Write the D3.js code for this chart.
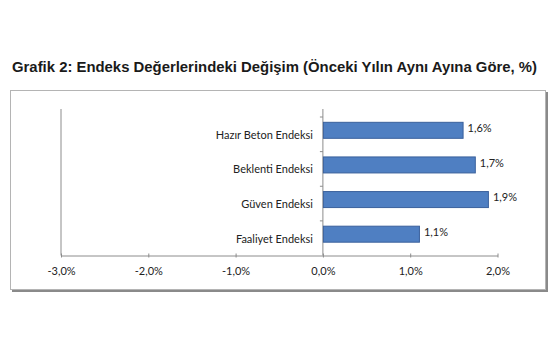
<!DOCTYPE html>
<html>
<head>
<meta charset="utf-8">
<style>
  body { margin: 0; background: #fff; }
  .title { font-family: "Liberation Sans", Arial, sans-serif; font-weight: bold; fill: #1a1a1a; }
  .lbl { font-family: Lato, "Open Sans", sans-serif; fill: #222; }
  .axis path, .axis line { stroke: #8c8c8c; }
</style>
</head>
<body>
<script src="https://d3js.org/d3.v7.min.js"></script>
<script>
  const categories = ['Hazır Beton Endeksi', 'Beklenti Endeksi', 'Güven Endeksi', 'Faaliyet Endeksi'];
  const values = [1.6, 1.74, 1.89, 1.1];
  const xTicks = [-3, -2, -1, 0, 1, 2];
  const titleText = 'Grafik 2: Endeks Değerlerindeki Değişim (Önceki Yılın Aynı Ayına Göre, %)';

  const data = categories.map((c, i) => ({ name: c, value: values[i] }));
  const fmt = v => v.toFixed(1).replace('.', ',') + '%';

  const width = 555, height = 355;
  const svg = d3.select('body').append('svg')
    .attr('width', width)
    .attr('height', height);

  svg.append('text')
    .attr('class', 'title')
    .attr('x', 12)
    .attr('y', 72)
    .attr('font-size', 15)
    .attr('textLength', 525)
    .attr('lengthAdjust', 'spacingAndGlyphs')
    .text(titleText);

  // frame with shadow on right/bottom
  svg.append('rect')
    .attr('x', 12).attr('y', 92).attr('width', 536).attr('height', 200)
    .attr('fill', '#8a8a8a');
  svg.append('rect')
    .attr('x', 10.5).attr('y', 90.5).attr('width', 535).attr('height', 199)
    .attr('fill', '#fff').attr('stroke', '#b4b4b4');

  const x = d3.scaleLinear()
    .domain([-3, 2])
    .range([61, 497.5]);

  const y = d3.scaleBand()
    .domain(categories)
    .range([117, 255.5]);

  const axisY = 255.5;

  // left vertical line at -3%
  svg.append('line')
    .attr('x1', x(-3)).attr('x2', x(-3))
    .attr('y1', 109).attr('y2', axisY)
    .attr('stroke', '#8c8c8c');

  const xAxis = svg.append('g')
    .attr('class', 'axis')
    .attr('transform', `translate(0,${axisY})`)
    .call(d3.axisBottom(x).tickValues(xTicks).tickSize(4).tickSizeOuter(0).tickFormat(fmt));
  xAxis.selectAll('line').attr('y1', -2).attr('y2', 2);
  xAxis.selectAll('text')
    .attr('class', 'lbl')
    .attr('font-size', 11)
    .attr('dy', '0.71em')
    .attr('y', 12);

  const yAxis = svg.append('g')
    .attr('class', 'axis')
    .attr('transform', `translate(${x(0)},0)`)
    .call(d3.axisLeft(y).tickSize(0).tickSizeOuter(0).tickPadding(10));
  yAxis.select('.domain').attr('d', `M0,109V${axisY}`);
  yAxis.selectAll('text')
    .attr('class', 'lbl')
    .attr('font-size', 11)
    .attr('dy', '0.4em');
  // category separators
  yAxis.selectAll('.sep')
    .data(categories)
    .join('line')
    .attr('class', 'sep')
    .attr('x1', -3).attr('x2', 0)
    .attr('y1', d => y(d)).attr('y2', d => y(d))
    .attr('stroke', '#8c8c8c');

  const barH = 16, barShift = -4;
  svg.append('g')
    .selectAll('rect')
    .data(data)
    .join('rect')
    .attr('x', x(0) + 0.5)
    .attr('y', d => y(d.name) + (y.bandwidth() - barH) / 2 + barShift)
    .attr('width', d => x(d.value) - x(0))
    .attr('height', barH)
    .attr('fill', '#4f7fc2')
    .attr('stroke', '#3a609c')
    .attr('stroke-width', 1);

  svg.append('g')
    .selectAll('text')
    .data(data)
    .join('text')
    .attr('class', 'lbl')
    .attr('font-size', 11)
    .attr('x', d => x(d.value) + 5)
    .attr('y', d => y(d.name) + y.bandwidth() / 2 + barShift - 2)
    .attr('dy', '0.35em')
    .text(d => fmt(d.value));
</script>
</body>
</html>
